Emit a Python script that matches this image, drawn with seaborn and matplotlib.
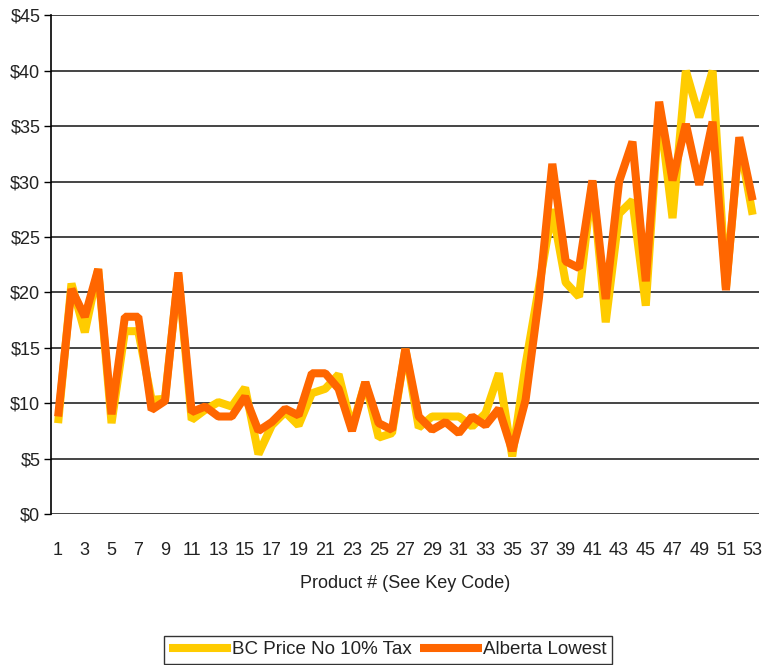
import matplotlib
matplotlib.use("Agg")
import matplotlib.pyplot as plt
import matplotlib.ticker as mticker
import numpy as np
import pandas as pd
import seaborn as sns

# Product numbers and prices per product
products = list(range(1, 54))

bc_no_tax = [8.2, 20.8, 16.4, 22.1, 8.2, 16.5, 16.5, 10.3, 10.4, 21.6,
             8.5, 9.4, 10.1, 9.7, 11.4, 5.4, 8.0, 9.2, 8.0, 10.9,
             11.3, 12.6, 7.8, 11.9, 6.9, 7.3, 14.9, 7.8, 8.8, 8.8,
             8.8, 7.9, 9.1, 12.7, 5.2, 13.5, 20.5, 27.5, 20.9, 19.6,
             30.0, 17.3, 27.1, 28.3, 18.8, 36.8, 26.7, 40.0, 35.8, 40.0,
             20.4, 33.7, 27.0]

alberta_lowest = [8.8, 20.3, 17.8, 22.1, 9.0, 17.8, 17.8, 9.4, 10.2, 21.8,
                  9.2, 9.7, 8.8, 8.8, 10.6, 7.5, 8.3, 9.5, 8.9, 12.7,
                  12.7, 11.3, 7.5, 11.9, 8.2, 7.6, 14.9, 8.8, 7.6, 8.3,
                  7.3, 8.8, 8.0, 9.5, 5.7, 10.3, 19.5, 31.6, 22.8, 22.2,
                  30.1, 19.4, 30.0, 33.6, 21.0, 37.2, 30.1, 35.2, 29.7, 35.4,
                  20.2, 34.0, 28.3]

series_names = ["BC Price No 10% Tax", "Alberta Lowest"]
series_colors = ["#FFCC00", "#FF6600"]

df = pd.DataFrame({
    "Product": products * 2,
    "Price": bc_no_tax + alberta_lowest,
    "Series": [series_names[0]] * len(products) + [series_names[1]] * len(products),
})

sns.set_theme(style="white")
plt.rcParams["font.family"] = ["Liberation Sans", "DejaVu Sans"]

fig = plt.figure(figsize=(7.62, 6.65), dpi=100)
ax = fig.add_axes([0.0675, 0.227, 0.929, 0.750])

sns.lineplot(data=df, x="Product", y="Price", hue="Series",
             hue_order=series_names, palette=series_colors,
             linewidth=5.8, ax=ax, legend=True,
             solid_joinstyle="bevel", solid_capstyle="butt")

ax.set_xlim(0.5, 53.5)
ax.set_ylim(0, 45)
ax.set_yticks(np.arange(0, 46, 5))
ax.yaxis.set_major_formatter(mticker.FuncFormatter(lambda v, p: f"${v:.0f}"))
ax.set_xticks(products[::2])

ax.yaxis.grid(True, color="#444444", linewidth=1.4)
ax.set_axisbelow(True)
for side in ["top", "right", "bottom"]:
    ax.spines[side].set_visible(False)
ax.spines["left"].set_color("black")
ax.spines["left"].set_linewidth(1.2)

ax.tick_params(axis="y", which="major", left=True, length=5, width=1,
               color="black", pad=3, labelsize=13)
ax.tick_params(axis="x", which="major", bottom=False, pad=14, labelsize=13)
for lbl in ax.get_xticklabels() + ax.get_yticklabels():
    lbl.set_color("#222222")

ax.set_ylabel("")
ax.set_xlabel("Product # (See Key Code)", fontsize=13, color="#222222",
              labelpad=12)

leg = ax.legend(loc="upper center", bbox_to_anchor=(0.509, 0.044),
                bbox_transform=fig.transFigure, ncol=2, frameon=True,
                fancybox=False, edgecolor="black", fontsize=13.5,
                handlelength=3.3, handletextpad=0.05, columnspacing=0.45,
                borderpad=0.3, borderaxespad=0)
leg.get_frame().set_linewidth(1.0)
for h in leg.get_lines():
    h.set_solid_capstyle("butt")
    h.set_linewidth(5.8)
for t in leg.get_texts():
    t.set_color("#222222")

fig.savefig("out.png", dpi=100)
